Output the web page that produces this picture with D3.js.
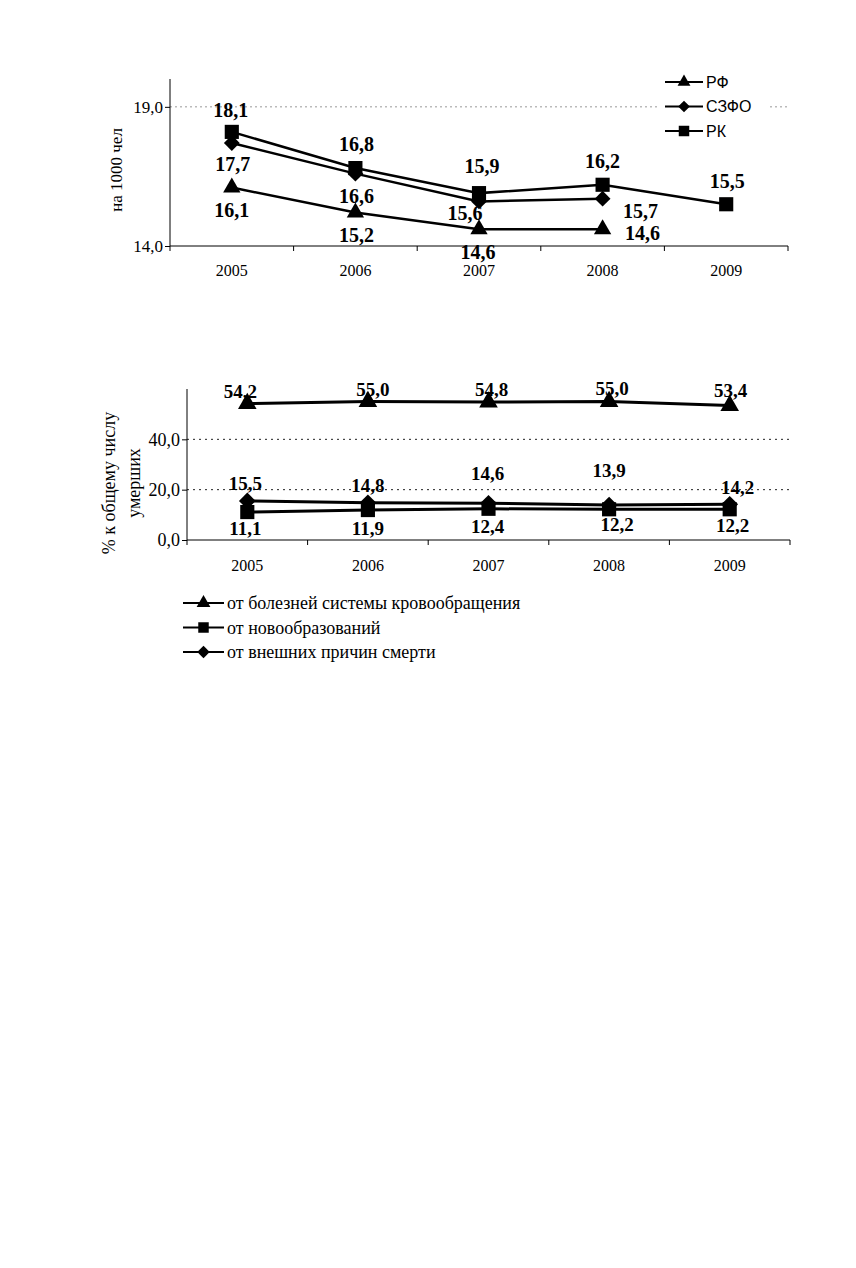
<!DOCTYPE html>
<html>
<head>
<meta charset="utf-8">
<script src="https://cdn.jsdelivr.net/npm/d3@7"></script>
<style>
  body { margin: 0; background: #fff; }
  svg { display: block; }
</style>
</head>
<body>
<div id="chart"></div>
<script>
// ---- data ----
const years = ["2005", "2006", "2007", "2008", "2009"];

// chart 1: mortality per 1000
const rfValues = [16.1, 15.2, 14.6, 14.6, null];
const szfoValues = [17.7, 16.6, 15.6, 15.7, null];
const rkValues = [18.1, 16.8, 15.9, 16.2, 15.5];
const rateTicks = [14, 19];

// chart 2: causes of death, % of total
const circulatoryValues = [54.2, 55.0, 54.8, 55.0, 53.4];
const neoplasmValues = [11.1, 11.9, 12.4, 12.2, 12.2];
const externalValues = [15.5, 14.8, 14.6, 13.9, 14.2];
const shareTicks = [0, 20, 40];

const fmt = (v) => d3.format(".1f")(v).replace(".", ",");
const serif = "'Liberation Serif', 'Times New Roman', serif";
const sans = "'Liberation Sans', Arial, sans-serif";

// square turned 45deg, like the office-chart diamond marker
const symbolRhomb = {
  draw(context, size) {
    const r = Math.sqrt(size / 2);
    context.moveTo(0, -r);
    context.lineTo(r, 0);
    context.lineTo(0, r);
    context.lineTo(-r, 0);
    context.closePath();
  },
};

const svg = d3
  .select("#chart")
  .append("svg")
  .attr("width", 856)
  .attr("height", 1268);

function drawChart(opts) {
  const x = d3.scaleBand().domain(years).range([opts.left, opts.right]);
  const y = d3.scaleLinear().domain(opts.domain).range([opts.bottom, opts.top]);
  const g = svg.append("g");

  // gridlines
  g.selectAll(".grid")
    .data(opts.grid)
    .enter()
    .append("line")
    .attr("x1", opts.left)
    .attr("x2", opts.right)
    .attr("y1", (d) => y(d))
    .attr("y2", (d) => y(d))
    .attr("stroke", opts.gridColor)
    .attr("stroke-width", 1)
    .attr("stroke-dasharray", opts.gridDash);

  // y axis
  const yAxis = g
    .append("g")
    .attr("transform", `translate(${opts.left},0)`)
    .call(
      d3.axisLeft(y).tickValues(opts.ticks).tickSize(5).tickPadding(2).tickFormat(fmt)
    );
  yAxis.select(".domain").attr("d", `M0,${opts.bottom}V${opts.top}`);
  yAxis.selectAll("text").style("font-family", serif).style("font-size", opts.tickFont + "px").attr("fill", "#000");

  // x axis: labels centred in bands, ticks on band edges
  const xAxis = g
    .append("g")
    .attr("transform", `translate(0,${opts.bottom})`)
    .call(d3.axisBottom(x).tickSize(0).tickPadding(opts.xPad));
  xAxis.select(".domain").attr("d", `M${opts.left},0H${opts.right}`);
  xAxis.selectAll("text").style("font-family", serif).style("font-size", opts.xFont + "px").attr("fill", "#000");
  xAxis
    .selectAll(".edge")
    .data(years.map((d) => x(d)).concat([opts.right]))
    .enter()
    .append("line")
    .attr("x1", (d) => d)
    .attr("x2", (d) => d)
    .attr("y1", 0)
    .attr("y2", 5)
    .attr("stroke", "#000");
  g.selectAll(".domain, .tick line").attr("stroke", "#000");

  // axis title
  opts.title.forEach((t) => {
    g.append("text")
      .attr("transform", `translate(${t.x},${t.y}) rotate(-90)`)
      .attr("text-anchor", "middle")
      .style("font-family", serif)
      .style("font-size", opts.titleFont + "px")
      .text(t.text);
  });

  const cx = (i) => x(years[i]) + x.bandwidth() / 2;

  // legend background (drawn before series, covers gridline)
  if (opts.legendBox) {
    g.append("rect")
      .attr("x", opts.legendBox[0])
      .attr("y", opts.legendBox[1])
      .attr("width", opts.legendBox[2])
      .attr("height", opts.legendBox[3])
      .attr("fill", "#fff");
  }

  opts.series.forEach((s) => {
    const line = d3
      .line()
      .defined((d) => d != null)
      .x((d, i) => cx(i))
      .y((d) => y(d));
    g.append("path")
      .datum(s.values)
      .attr("d", line)
      .attr("fill", "none")
      .attr("stroke", "#000")
      .attr("stroke-width", opts.lineWidth);

    const pts = s.values.map((v, i) => ({ v, i })).filter((d) => d.v != null);
    g.selectAll(null)
      .data(pts)
      .enter()
      .append("path")
      .attr("transform", (d) => `translate(${cx(d.i)},${y(d.v)})`)
      .attr("d", d3.symbol().type(s.symbol).size(s.size))
      .attr("fill", "#000");

    g.selectAll(null)
      .data(pts)
      .enter()
      .append("text")
      .attr("x", (d) => cx(d.i) + s.offsets[d.i][0])
      .attr("y", (d) => y(d.v) + s.offsets[d.i][1])
      .attr("text-anchor", "middle")
      .attr("dominant-baseline", "central")
      .style("font-family", serif)
      .style("font-weight", "bold")
      .style("font-size", opts.labelFont + "px")
      .text((d) => fmt(d.v));
  });

  // legend
  const leg = g
    .selectAll(".leg")
    .data(opts.series.slice().sort((a, b) => a.legendOrder - b.legendOrder))
    .enter()
    .append("g")
    .attr("transform", (d, i) => `translate(${opts.legend.x},${opts.legend.y + i * opts.legend.step})`);
  leg.append("line")
    .attr("x1", 0)
    .attr("x2", opts.legend.lineLen)
    .attr("stroke", "#000")
    .attr("stroke-width", 2);
  leg.append("path")
    .attr("transform", `translate(${opts.legend.lineLen / 2},0)`)
    .attr("d", (d) => d3.symbol().type(d.symbol).size(d.size * 0.55)())
    .attr("fill", "#000");
  leg.append("text")
    .attr("x", opts.legend.lineLen + 3)
    .attr("dominant-baseline", "central")
    .style("font-family", opts.legend.font)
    .style("font-size", opts.legend.size + "px")
    .text((d) => d.name);
}

// ---- chart 1 ----
drawChart({
  left: 170,
  right: 788,
  top: 79,
  bottom: 246,
  domain: [14, 20],
  ticks: rateTicks,
  grid: [19],
  gridColor: "#999",
  gridDash: "2,3",
  tickFont: 17,
  xFont: 16,
  xPad: 19,
  titleFont: 17,
  labelFont: 20,
  lineWidth: 2.5,
  title: [{ x: 122, y: 170, text: "на 1000 чел" }],
  legendBox: [658, 70, 110, 72],
  legend: { x: 665, y: 82, step: 24.5, lineLen: 38, font: sans, size: 16 },
  series: [
    {
      name: "РФ",
      values: rfValues,
      symbol: d3.symbolTriangle,
      size: 130,
      legendOrder: 0,
      offsets: [[0, 22], [1, 22], [-1, 23], [40, 4], [0, 0]],
    },
    {
      name: "СЗФО",
      values: szfoValues,
      symbol: symbolRhomb,
      size: 125,
      legendOrder: 1,
      offsets: [[1, 21], [1, 22], [-14, 12], [38, 12], [0, 0]],
    },
    {
      name: "РК",
      values: rkValues,
      symbol: d3.symbolSquare,
      size: 200,
      legendOrder: 2,
      offsets: [[-1, -22], [1, -24], [3, -27], [0, -24], [1, -23]],
    },
  ],
});

// ---- chart 2 ----
drawChart({
  left: 187,
  right: 790,
  top: 389,
  bottom: 540,
  domain: [0, 60],
  ticks: shareTicks,
  grid: [20, 40],
  gridColor: "#222",
  gridDash: "2,4",
  tickFont: 18,
  xFont: 16,
  xPad: 20,
  titleFont: 18,
  labelFont: 19,
  lineWidth: 3,
  title: [
    { x: 115, y: 483, text: "% к общему числу" },
    { x: 140, y: 483, text: "умерших" },
  ],
  legend: { x: 183, y: 603, step: 24.5, lineLen: 41, font: serif, size: 18 },
  series: [
    {
      name: "от болезней системы кровообращения",
      values: circulatoryValues,
      symbol: d3.symbolTriangle,
      size: 150,
      legendOrder: 0,
      offsets: [[-7, -12], [5, -12], [3, -13], [3, -13], [1, -15]],
    },
    {
      name: "от новообразований",
      values: neoplasmValues,
      symbol: d3.symbolSquare,
      size: 200,
      legendOrder: 1,
      offsets: [[-2, 16], [0, 18], [-1, 18], [8, 15], [3, 16]],
    },
    {
      name: "от внешних причин смерти",
      values: externalValues,
      symbol: symbolRhomb,
      size: 140,
      legendOrder: 2,
      offsets: [[-2, -17], [0, -17], [-1, -30], [0, -35], [8, -17]],
    },
  ],
});
</script>
</body>
</html>
